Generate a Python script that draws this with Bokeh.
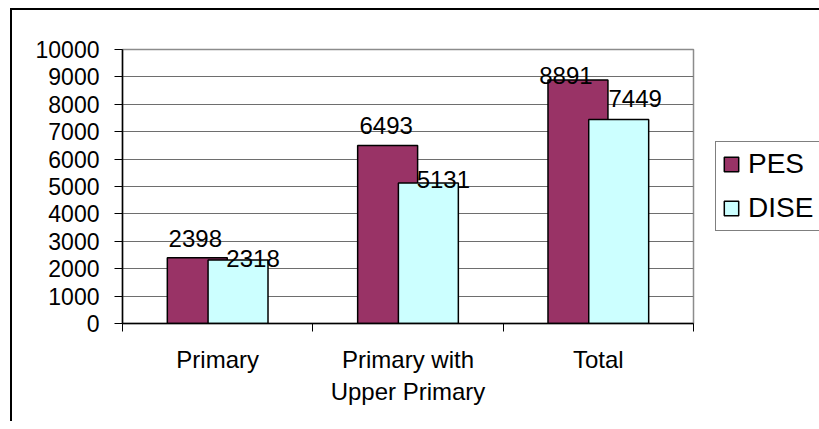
from bokeh.plotting import figure
from bokeh.models import Range1d, FixedTicker, ColumnDataSource, Legend, LegendItem
from bokeh.transform import dodge
from bokeh.core.properties import value
from bokeh.embed import file_html
from bokeh.resources import INLINE

# ---- data ----
categories = ["Primary", "Primary with\nUpper Primary", "Total"]
series = ["PES", "DISE"]
pes = [2398, 6493, 8891]
dise = [2318, 5131, 7449]
y_ticks = list(range(0, 10001, 1000))

# ---- style ----
FONT = "Liberation Sans"
PES_COLOR = "#993366"
DISE_COLOR = "#CCFFFF"
BAR_W = 0.315
DODGE = 0.107
# label nudges in px (dx right, dy up) imitating the reference placement
pes_dx = [-2, -1.5, -12]
pes_dy = [19, 20, 4]
dise_dx = [15, 15, 16.5]
dise_dy = [1.5, 3.5, 21]

xs = [i + 0.5 for i in range(len(categories))]
src = ColumnDataSource(dict(
    x=xs, pes=pes, dise=dise,
    pes_lbl=[str(v) for v in pes], dise_lbl=[str(v) for v in dise],
    pes_dx=pes_dx, pes_dy=[-d for d in pes_dy],
    dise_dx=dise_dx, dise_dy=[-d for d in dise_dy],
))

p = figure(
    x_range=Range1d(0, len(categories)), y_range=Range1d(0, 10000),
    frame_width=571, frame_height=274,
    min_border_left=110, min_border_right=118, min_border_top=39, min_border_bottom=98,
    output_backend="svg", toolbar_location=None,
    styles={"position": "relative", "left": "10px", "top": "8px",
            "border-left": "2px solid black", "border-top": "2px solid black"},
)
p.background_fill_color = "white"
p.border_fill_color = "white"
p.outline_line_color = "#8c8c8c"
p.outline_line_width = 1.5

r_pes = p.vbar(x=dodge("x", -DODGE), top="pes", width=BAR_W, source=src,
               fill_color=PES_COLOR, line_color="black", line_width=1.5)
r_dise = p.vbar(x=dodge("x", DODGE), top="dise", width=BAR_W, source=src,
                fill_color=DISE_COLOR, line_color="black", line_width=1.5)

p.text(x=dodge("x", -DODGE), y="pes", text="pes_lbl", x_offset="pes_dx", y_offset="pes_dy",
       source=src, text_align="center", text_baseline="alphabetic",
       text_font=value(FONT), text_font_size="24px", text_color="black")
p.text(x=dodge("x", DODGE), y="dise", text="dise_lbl", x_offset="dise_dx", y_offset="dise_dy",
       source=src, text_align="center", text_baseline="alphabetic",
       text_font=value(FONT), text_font_size="24px", text_color="black")

# grid
p.xgrid.visible = False
p.ygrid.ticker = FixedTicker(ticks=y_ticks)
p.ygrid.grid_line_color = "#6e6e6e"
p.ygrid.grid_line_width = 1

# y axis
ya = p.yaxis[0]
ya.ticker = FixedTicker(ticks=y_ticks)
ya.axis_line_color = "black"
ya.axis_line_width = 1.5
ya.major_tick_line_color = "black"
ya.major_tick_in = 0
ya.major_tick_out = 8
ya.minor_tick_line_color = None
ya.major_label_standoff = 15
ya.major_label_text_font = FONT
ya.major_label_text_font_size = "23px"
ya.major_label_text_color = "black"

# x axis: labels at category centres, tick marks between categories
xa = p.xaxis[0]
xa.ticker = FixedTicker(ticks=xs, minor_ticks=list(range(len(categories) + 1)))
xa.major_label_overrides = {x: c for x, c in zip(xs, categories)}
xa.axis_line_color = "black"
xa.axis_line_width = 1.5
xa.major_tick_line_color = None
xa.minor_tick_line_color = "black"
xa.minor_tick_in = 0
xa.minor_tick_out = 8
xa.major_label_standoff = 14
xa.major_label_text_font = FONT
xa.major_label_text_font_size = "24px"
xa.major_label_text_color = "black"
xa.major_label_text_align = "center"

legend = Legend(
    items=[LegendItem(label=series[0], renderers=[r_pes]),
           LegendItem(label=series[1], renderers=[r_dise])],
    location=(22, 92),
    label_text_font=FONT, label_text_font_size="28px", label_text_color="black",
    glyph_width=18, glyph_height=18, label_standoff=8,
    padding=6, spacing=12, margin=0,
    border_line_color="black", border_line_width=1,
    background_fill_color="white", background_fill_alpha=1,
)
p.add_layout(legend, "right")

open("out.html", "w").write(file_html(p, INLINE))
